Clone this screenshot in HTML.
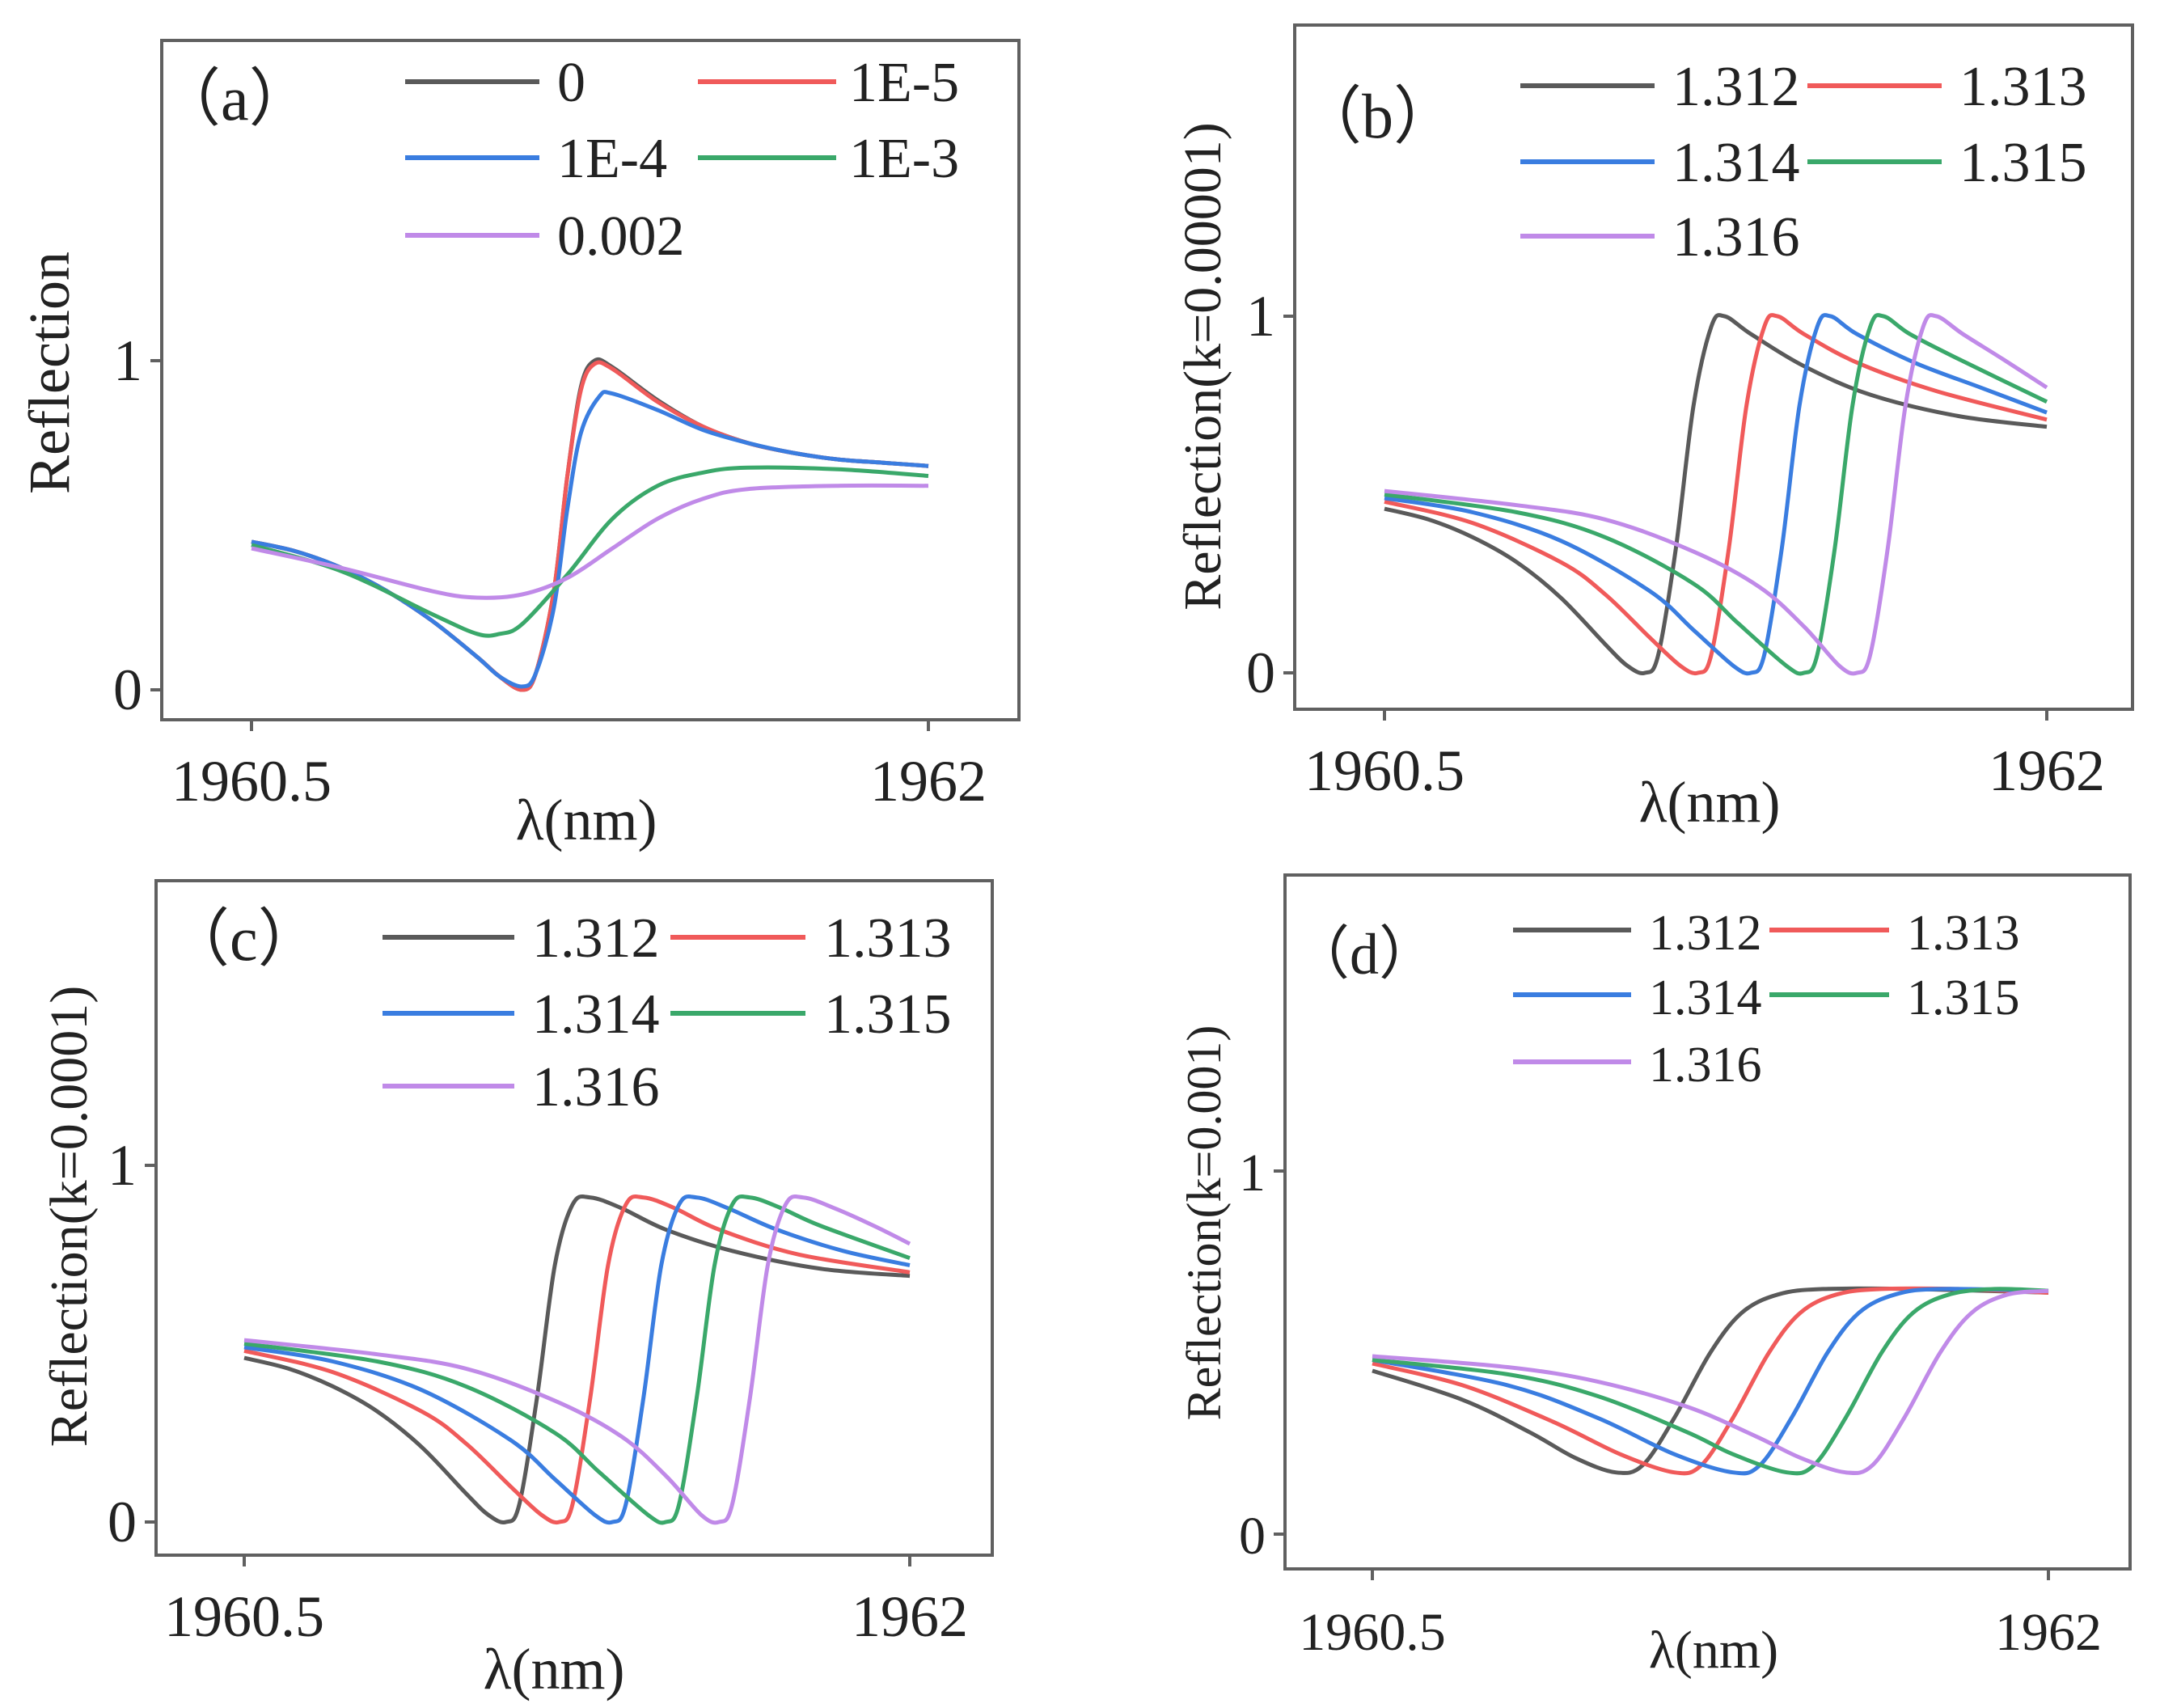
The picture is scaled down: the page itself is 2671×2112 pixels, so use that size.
<!DOCTYPE html>
<html><head><meta charset="utf-8">
<style>
html,body{margin:0;padding:0;background:#fff;}
svg{display:block;font-family:"Liberation Serif",serif;}
</style></head>
<body>
<svg id="fig" width="2671" height="2112" viewBox="0 0 2671 2112" xmlns="http://www.w3.org/2000/svg"></svg>
<script>
const colors = ["#5a5a5a","#f05a5a","#3a7de0","#3aa86a","#c08ae8"];
const xTicks = [1960.5, 1962];
const xTickLabels = ["1960.5","1962"];
const yTicks = [0, 1];
const yTickLabels = ["0","1"];
// panel a
const aLabels = ["0","1E-5","1E-4","1E-3","0.002"];
const aX0 = [1960.5,1960.6,1960.7,1960.8,1960.9,1961.0,1961.05,1961.1,1961.13,1961.17,1961.2,1961.23,1961.26,1961.3,1961.4,1961.5,1961.6,1961.7,1961.8,1961.9,1962];
const aY0 = [0.45,0.42,0.37,0.30,0.21,0.10,0.04,0.0,0.05,0.30,0.65,0.92,1.0,0.98,0.88,0.80,0.75,0.72,0.70,0.69,0.68];
const aX1 = aX0;
const aY1 = [0.45,0.42,0.37,0.30,0.21,0.10,0.04,0.0,0.05,0.30,0.65,0.91,0.99,0.975,0.875,0.80,0.75,0.72,0.70,0.69,0.68];
const aX2 = [1960.5,1960.6,1960.7,1960.8,1960.9,1961.0,1961.05,1961.1,1961.13,1961.17,1961.2,1961.23,1961.27,1961.3,1961.4,1961.5,1961.6,1961.7,1961.8,1961.9,1962];
const aY2 = [0.45,0.42,0.37,0.30,0.21,0.10,0.04,0.01,0.05,0.25,0.55,0.78,0.89,0.90,0.85,0.79,0.75,0.72,0.70,0.69,0.68];
const aX3 = [1960.5,1960.7,1960.9,1961.0,1961.05,1961.1,1961.2,1961.3,1961.4,1961.5,1961.6,1961.8,1962];
const aY3 = [0.44,0.36,0.23,0.17,0.17,0.20,0.35,0.52,0.62,0.66,0.675,0.67,0.65];
const aX4 = [1960.5,1960.7,1960.9,1961.0,1961.1,1961.2,1961.3,1961.4,1961.5,1961.6,1961.8,1962];
const aY4 = [0.43,0.37,0.30,0.28,0.29,0.34,0.43,0.52,0.58,0.61,0.62,0.62];
// panel b
const nLabels = ["1.312","1.313","1.314","1.315","1.316"];
const bX0 = [1960.5,1960.6,1960.7,1960.8,1960.9,1961.0,1961.05,1961.09,1961.12,1961.16,1961.2,1961.24,1961.27,1961.33,1961.45,1961.6,1961.8,1962];
const bY0 = [0.46,0.43,0.38,0.31,0.21,0.08,0.02,0.0,0.05,0.35,0.75,0.97,1.0,0.95,0.86,0.78,0.72,0.69];
const bX1 = [1960.5,1960.7,1960.9,1961.0,1961.1,1961.17,1961.21,1961.24,1961.28,1961.32,1961.36,1961.39,1961.45,1961.57,1961.75,1962];
const bY1 = [0.48,0.42,0.31,0.22,0.10,0.02,0.0,0.05,0.35,0.75,0.97,1.0,0.95,0.87,0.79,0.71];
const bX2 = [1960.5,1960.7,1960.9,1961.1,1961.2,1961.29,1961.33,1961.36,1961.4,1961.44,1961.48,1961.51,1961.57,1961.7,1961.85,1962];
const bY2 = [0.49,0.45,0.37,0.23,0.12,0.02,0.0,0.05,0.35,0.75,0.97,1.0,0.95,0.87,0.80,0.73];
const bX3 = [1960.5,1960.8,1961.0,1961.2,1961.3,1961.41,1961.45,1961.48,1961.52,1961.56,1961.6,1961.63,1961.69,1961.8,1962];
const bY3 = [0.50,0.45,0.38,0.25,0.14,0.02,0.0,0.05,0.35,0.75,0.97,1.0,0.95,0.88,0.76];
const bX4 = [1960.5,1960.8,1961.0,1961.2,1961.35,1961.45,1961.53,1961.57,1961.6,1961.64,1961.68,1961.72,1961.75,1961.81,1961.9,1962];
const bY4 = [0.51,0.47,0.43,0.34,0.24,0.13,0.02,0.0,0.05,0.35,0.75,0.97,1.0,0.95,0.88,0.80];
// panel c
const cX0 = [1960.5,1960.6,1960.7,1960.8,1960.9,1961.0,1961.05,1961.09,1961.12,1961.16,1961.2,1961.24,1961.28,1961.35,1961.45,1961.6,1961.8,1962];
const cY0 = [0.46,0.43,0.38,0.31,0.21,0.08,0.02,0.0,0.05,0.35,0.72,0.89,0.91,0.88,0.82,0.76,0.71,0.69];
const cX1 = [1960.5,1960.7,1960.9,1961.0,1961.1,1961.17,1961.21,1961.24,1961.28,1961.32,1961.36,1961.4,1961.47,1961.57,1961.75,1962];
const cY1 = [0.48,0.42,0.31,0.22,0.10,0.02,0.0,0.05,0.35,0.72,0.89,0.91,0.88,0.82,0.75,0.70];
const cX2 = [1960.5,1960.7,1960.9,1961.1,1961.2,1961.29,1961.33,1961.36,1961.4,1961.44,1961.48,1961.52,1961.59,1961.7,1961.85,1962];
const cY2 = [0.49,0.45,0.37,0.23,0.12,0.02,0.0,0.05,0.35,0.72,0.89,0.91,0.88,0.82,0.76,0.72];
const cX3 = [1960.5,1960.8,1961.0,1961.2,1961.3,1961.41,1961.45,1961.48,1961.52,1961.56,1961.6,1961.64,1961.71,1961.8,1962];
const cY3 = [0.50,0.45,0.38,0.25,0.14,0.02,0.0,0.05,0.35,0.72,0.89,0.91,0.88,0.83,0.74];
const cX4 = [1960.5,1960.8,1961.0,1961.2,1961.35,1961.45,1961.53,1961.57,1961.6,1961.64,1961.68,1961.72,1961.76,1961.83,1961.92,1962];
const cY4 = [0.51,0.47,0.43,0.34,0.24,0.13,0.02,0.0,0.05,0.35,0.72,0.89,0.91,0.88,0.83,0.78];
// panel d
const dX0 = [1960.5,1960.7,1960.85,1960.95,1961.04,1961.1,1961.17,1961.25,1961.32,1961.4,1961.5,1961.7,1962];
const dY0 = [0.45,0.37,0.28,0.21,0.17,0.19,0.32,0.50,0.61,0.66,0.675,0.675,0.665];
const dX1 = [1960.5,1960.7,1960.9,1961.05,1961.17,1961.23,1961.3,1961.38,1961.45,1961.53,1961.63,1961.8,1962];
const dY1 = [0.47,0.41,0.31,0.22,0.17,0.19,0.32,0.50,0.61,0.66,0.675,0.675,0.665];
const dX2 = [1960.5,1960.8,1961.0,1961.17,1961.3,1961.36,1961.43,1961.51,1961.58,1961.66,1961.76,1962];
const dY2 = [0.48,0.41,0.32,0.22,0.17,0.19,0.32,0.50,0.61,0.66,0.675,0.67];
const dX3 = [1960.5,1960.8,1961.0,1961.2,1961.3,1961.42,1961.48,1961.55,1961.63,1961.7,1961.78,1961.88,1962];
const dY3 = [0.48,0.44,0.38,0.28,0.22,0.17,0.19,0.32,0.50,0.61,0.66,0.675,0.67];
const dX4 = [1960.5,1960.8,1961.0,1961.2,1961.35,1961.45,1961.55,1961.61,1961.68,1961.76,1961.83,1961.91,1962];
const dY4 = [0.49,0.46,0.42,0.35,0.27,0.21,0.17,0.19,0.32,0.50,0.61,0.66,0.67];

const NS = "http://www.w3.org/2000/svg";
const svg = document.getElementById("fig");
function mk(tag, attrs, parent){const e=document.createElementNS(NS,tag);for(const k in attrs)e.setAttribute(k,attrs[k]);(parent||svg).appendChild(e);return e;}
function smooth(pts){
  let d="M"+pts[0][0].toFixed(1)+","+pts[0][1].toFixed(1);
  for(let i=0;i<pts.length-1;i++){
    const p0=pts[Math.max(0,i-1)],p1=pts[i],p2=pts[i+1],p3=pts[Math.min(pts.length-1,i+2)];
    const c1=[p1[0]+(p2[0]-p0[0])/6,p1[1]+(p2[1]-p0[1])/6];
    const c2=[p2[0]-(p3[0]-p1[0])/6,p2[1]-(p3[1]-p1[1])/6];
    d+=" C"+c1[0].toFixed(1)+","+c1[1].toFixed(1)+" "+c2[0].toFixed(1)+","+c2[1].toFixed(1)+" "+p2[0].toFixed(1)+","+p2[1].toFixed(1);
  }
  return d;
}
function panel(cfg){
  const g=mk("g",{});
  
  
  const sx=v=>cfg.px0+(v-1960.5)/1.5*(cfg.px1-cfg.px0);
  const sy=v=>cfg.py0+(v)*(cfg.py1-cfg.py0);
  const box=mk("rect",{x:cfg.L,y:cfg.T,width:cfg.R-cfg.L,height:cfg.B-cfg.T,fill:"none",stroke:"#606060","stroke-width":4},g);
  
  
  xTicks.forEach((t,i)=>{
    const x=sx(t);
    const tk=mk("line",{x1:x,x2:x,y1:cfg.B,y2:cfg.B+14,stroke:"#606060","stroke-width":4},g);
    
    
    const tl=mk("text",{x:x,y:cfg.B+100,"font-size":cfg.fs,"text-anchor":"middle",fill:"#222"},g);
    tl.textContent=xTickLabels[i];
    
    
  });
  yTicks.forEach((t,i)=>{
    const y=sy(t);
    const tk=mk("line",{x1:cfg.L-14,x2:cfg.L,y1:y,y2:y,stroke:"#606060","stroke-width":4},g);
    
    
    const tl=mk("text",{x:cfg.L-24,y:y+24,"font-size":cfg.fs,"text-anchor":"end",fill:"#222"},g);
    tl.textContent=yTickLabels[i];
    
    
  });
  const xl=mk("text",{x:cfg.xlx,y:cfg.xly+25,"font-size":cfg.fs,"text-anchor":"middle",fill:"#222"},g);
  xl.textContent="λ(nm)";
  
  
  const yl=mk("text",{x:0,y:0,"font-size":cfg.yfs,"text-anchor":"middle",fill:"#222",transform:"translate("+(cfg.ylx+22)+","+cfg.yly+") rotate(-90)"},g);
  yl.textContent=cfg.ytitle;
  
  
  const pl=mk("text",{x:cfg.labx,y:cfg.laby+25,"font-size":cfg.fs+6,fill:"#222"},g);
  pl.textContent=cfg.tag;
  
  
  cfg.series.forEach((s,i)=>{
    const pts=s[0].map((x,j)=>[sx(x),sy(s[1][j])]);
    const p=mk("path",{d:smooth(pts),fill:"none",stroke:colors[i],"stroke-width":5,"stroke-linejoin":"round"},g);
    
    
  });
  cfg.labels.forEach((lab,i)=>{
    const col=i%2,row=Math.floor(i/2);
    const y=cfg.rows[row];
    const l=mk("line",{x1:cfg.cols[col][0],x2:cfg.cols[col][1],y1:y,y2:y,stroke:colors[i],"stroke-width":6},g);
    
    
    const t=mk("text",{x:cfg.cols[col][2],y:y+24,"font-size":cfg.lfs,fill:"#222"},g);
    t.textContent=lab;
    
    
  });
}
panel({id:"a",tag:"（a）",L:200,T:50,R:1260,B:890,px0:311,px1:1148,py0:853,py1:446,fs:72,yfs:72,lfs:70,
  xlx:725,xly:1013,ylx:63,yly:461,labx:195,laby:123,ytitle:"Reflection",labels:aLabels,
  series:[[aX0,aY0],[aX1,aY1],[aX2,aY2],[aX3,aY3],[aX4,aY4]],
  rows:[101,195,291],cols:[[501,667,689],[863,1034,1050]]});
panel({id:"b",tag:"（b）",L:1601,T:31,R:2637,B:877,px0:1712,px1:2531,py0:832,py1:391,fs:72,yfs:66,lfs:70,
  xlx:2114,xly:991,ylx:1487,yly:453,labx:1606,laby:145,ytitle:"Reflection(k=0.00001)",labels:nLabels,
  series:[[bX0,bY0],[bX1,bY1],[bX2,bY2],[bX3,bY3],[bX4,bY4]],
  rows:[106,200,292],cols:[[1880,2046,2068],[2235,2401,2423]]});
panel({id:"c",tag:"（c）",L:193,T:1089,R:1227,B:1923,px0:302,px1:1125,py0:1882,py1:1441,fs:72,yfs:66,lfs:70,
  xlx:685,xly:2063,ylx:85,yly:1504,labx:206,laby:1162,ytitle:"Reflection(k=0.0001)",labels:nLabels,
  series:[[cX0,cY0],[cX1,cY1],[cX2,cY2],[cX3,cY3],[cX4,cY4]],
  rows:[1159,1253,1343],cols:[[473,636,658],[829,996,1019]]});
panel({id:"d",tag:"（d）",L:1589,T:1082,R:2634,B:1940,px0:1697,px1:2533,py0:1897,py1:1448,fs:66,yfs:60,lfs:62,
  xlx:2119,xly:2037,ylx:1487,yly:1512,labx:1597,laby:1179,ytitle:"Reflection(k=0.001)",labels:nLabels,
  series:[[dX0,dY0],[dX1,dY1],[dX2,dY2],[dX3,dY3],[dX4,dY4]],
  rows:[1150,1230,1313],cols:[[1871,2017,2039],[2188,2336,2358]]});
</script>
</body></html>
